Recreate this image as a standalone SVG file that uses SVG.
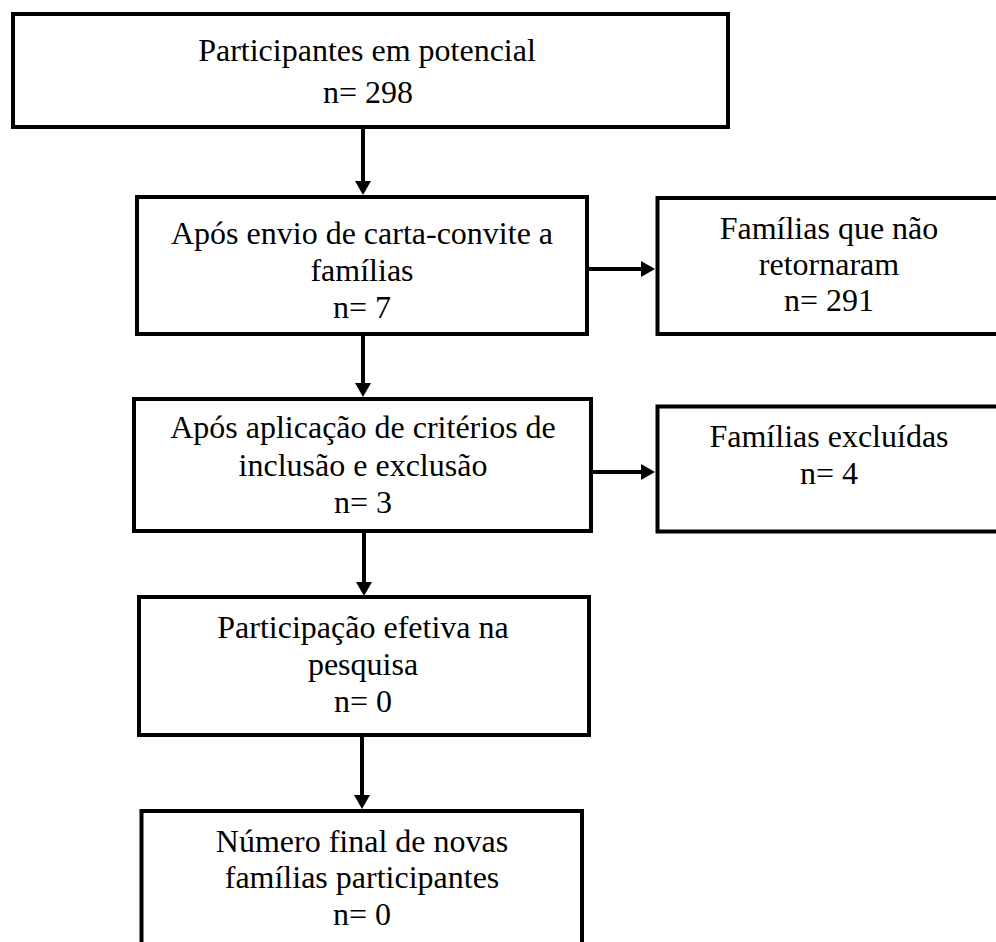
<svg xmlns="http://www.w3.org/2000/svg" width="996" height="942" viewBox="0 0 996 942">
<style>
.box{fill:#fff;stroke:#000;stroke-width:4}
.t{font-size:32px;fill:#000;text-anchor:middle}
.c{stroke:#000;stroke-width:4;fill:none}
</style>
<defs>
<marker id="ah" markerUnits="userSpaceOnUse" markerWidth="14" markerHeight="16" refX="0" refY="8" orient="auto" viewBox="0 0 14 16">
<path d="M0,0 L14,8 L0,16 Z" fill="#000"/>
</marker>
</defs>
<rect width="996" height="942" fill="#fff"/>
<g id="connectors">
<path class="c" d="M363,129 V181" marker-end="url(#ah)"/>
<path class="c" d="M363,336 V383" marker-end="url(#ah)"/>
<path class="c" d="M364,533 V582" marker-end="url(#ah)"/>
<path class="c" d="M362,737 V795" marker-end="url(#ah)"/>
<path class="c" d="M588,269 H641" marker-end="url(#ah)"/>
<path class="c" d="M592,472 H641" marker-end="url(#ah)"/>
</g>
<g font-family="Liberation Serif, Times New Roman, DejaVu Serif, serif">
<g id="node1">
<rect class="box" x="13" y="14" width="715" height="113"/>
<text class="t" x="367" y="61">Participantes em potencial</text>
<text class="t" x="368" y="103">n= 298</text>
</g>
<g id="node2">
<rect class="box" x="137" y="197" width="450" height="137"/>
<text class="t" x="362" y="244">Após envio de carta-convite a</text>
<text class="t" x="362" y="281">famílias</text>
<text class="t" x="362" y="318">n= 7</text>
</g>
<g id="node3">
<rect class="box" x="657.5" y="198" width="345" height="136"/>
<text class="t" x="829" y="239">Famílias que não</text>
<text class="t" x="829" y="275">retornaram</text>
<text class="t" x="829" y="311">n= 291</text>
</g>
<g id="node4">
<rect class="box" x="134" y="399" width="457" height="132"/>
<text class="t" x="363" y="438">Após aplicação de critérios de</text>
<text class="t" x="363" y="476">inclusão e exclusão</text>
<text class="t" x="363" y="513">n= 3</text>
</g>
<g id="node5">
<rect class="box" x="657.5" y="406.5" width="345" height="125"/>
<text class="t" x="829" y="447">Famílias excluídas</text>
<text class="t" x="829" y="484">n= 4</text>
</g>
<g id="node6">
<rect class="box" x="139" y="597" width="450" height="138"/>
<text class="t" x="363" y="638">Participação efetiva na</text>
<text class="t" x="363" y="675">pesquisa</text>
<text class="t" x="363" y="712">n= 0</text>
</g>
<g id="node7">
<rect class="box" x="141.5" y="811" width="440.5" height="150"/>
<text class="t" x="362" y="852">Número final de novas</text>
<text class="t" x="362" y="888">famílias participantes</text>
<text class="t" x="362" y="925">n= 0</text>
</g>
</g>
</svg>
